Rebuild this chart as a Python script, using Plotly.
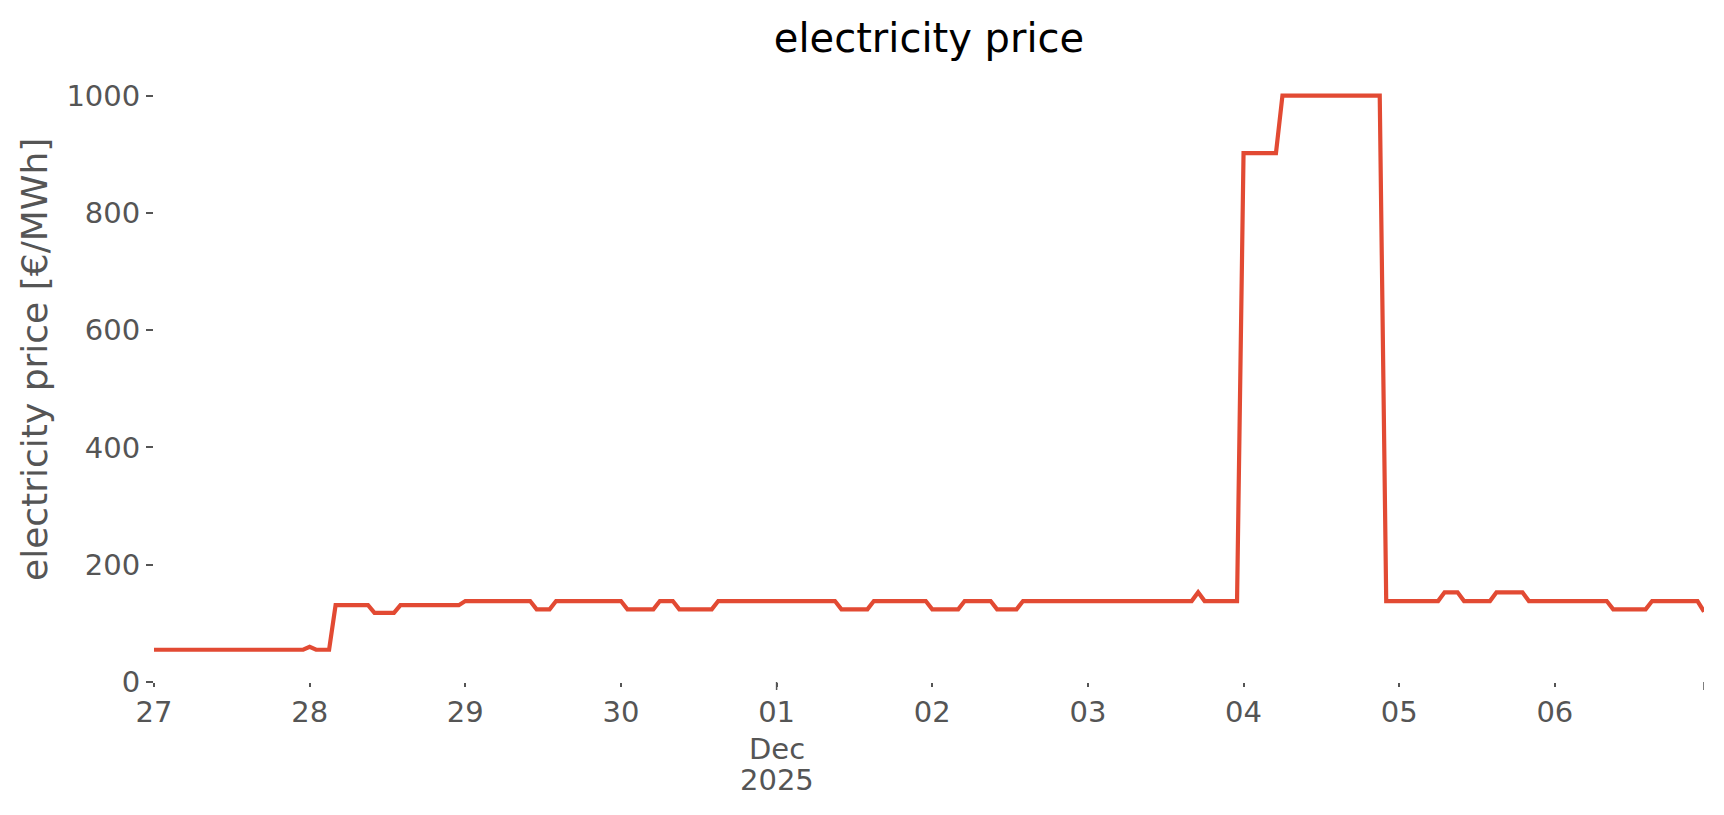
import pandas as pd
import plotly.graph_objects as go

# hourly day-ahead price, 27 Nov 2025 00:00 .. 06 Dec 2025 23:00
start = "2025-11-27 00:00"
price_nov27 = [55] * 24
price_nov28 = [60, 55, 55, 55, 131, 131, 131, 131, 131, 131, 118, 118,
               118, 118, 131, 131, 131, 131, 131, 131, 131, 131, 131, 131]
price_nov29 = [138, 138, 138, 138, 138, 138, 138, 138, 138, 138, 138, 124,
               124, 124, 138, 138, 138, 138, 138, 138, 138, 138, 138, 138]
price_nov30 = [138, 124, 124, 124, 124, 124, 138, 138, 138, 124, 124, 124,
               124, 124, 124, 138, 138, 138, 138, 138, 138, 138, 138, 138]
price_dec01 = [138, 138, 138, 138, 138, 138, 138, 138, 138, 138, 124, 124,
               124, 124, 124, 138, 138, 138, 138, 138, 138, 138, 138, 138]
price_dec02 = [124, 124, 124, 124, 124, 138, 138, 138, 138, 138, 124, 124,
               124, 124, 138, 138, 138, 138, 138, 138, 138, 138, 138, 138]
price_dec03 = [138, 138, 138, 138, 138, 138, 138, 138, 138, 138, 138, 138,
               138, 138, 138, 138, 138, 153, 138, 138, 138, 138, 138, 138]
price_dec04 = [902, 902, 902, 902, 902, 902, 1000, 1000, 1000, 1000, 1000, 1000,
               1000, 1000, 1000, 1000, 1000, 1000, 1000, 1000, 1000, 1000, 138, 138]
price_dec05 = [138, 138, 138, 138, 138, 138, 138, 153, 153, 153, 138, 138,
               138, 138, 138, 153, 153, 153, 153, 153, 138, 138, 138, 138]
price_dec06 = [138, 138, 138, 138, 138, 138, 138, 138, 138, 124, 124, 124,
               124, 124, 124, 138, 138, 138, 138, 138, 138, 138, 138, 120]

tick_days = ["2025-11-27", "2025-11-28", "2025-11-29", "2025-11-30", "2025-12-01",
             "2025-12-02", "2025-12-03", "2025-12-04", "2025-12-05", "2025-12-06"]
tick_text = ["27", "28", "29", "30", "01", "02", "03", "04", "05", "06"]
month_label = ["Dec", "2025"]
y_ticks = [0, 200, 400, 600, 800, 1000]

prices = (price_nov27 + price_nov28 + price_nov29 + price_nov30 + price_dec01
          + price_dec02 + price_dec03 + price_dec04 + price_dec05 + price_dec06)
times = pd.date_range(start, periods=len(prices), freq="h")

W, H = 1724, 815
left, right, top, bottom = 154, 20, 68, 133
plot_h = H - top - bottom
grey = "#555555"
font = "DejaVu Sans"
tick_size = 29

fig = go.Figure(
    go.Scatter(
        x=times,
        y=prices,
        mode="lines",
        line=dict(color="#E24A33", width=4.2),
        hoverinfo="x+y",
    )
)

fig.update_layout(
    width=W,
    height=H,
    margin=dict(l=left, r=right, t=top, b=bottom, pad=0),
    paper_bgcolor="white",
    plot_bgcolor="white",
    showlegend=False,
    font=dict(family=font, color=grey),
    title=dict(
        text="electricity price",
        x=0.5 + (left - right) / 2 / W,
        xanchor="center",
        y=1 - 38 / H,
        yanchor="middle",
        yref="container",
        font=dict(family=font, size=40, color="black"),
    ),
    xaxis=dict(
        range=[times[0], times[-1]],
        tickmode="array",
        tickvals=pd.to_datetime(tick_days),
        ticktext=tick_text,
        ticks="outside",
        ticklen=4,
        tickwidth=1.5,
        tickcolor=grey,
        tickfont=dict(family=font, size=tick_size, color=grey),
        showgrid=False,
        zeroline=False,
        showline=False,
    ),
    yaxis=dict(
        range=[0, 1047],
        tickmode="array",
        tickvals=y_ticks,
        ticks="outside",
        ticklen=7,
        tickwidth=1.5,
        tickcolor=grey,
        tickfont=dict(family=font, size=tick_size, color=grey),
        showgrid=False,
        zeroline=False,
        showline=False,
    ),
)

# longer major ticks (month start and last sample), as in the source
for t in [pd.Timestamp("2025-12-01"), times[-1]]:
    fig.add_shape(
        type="line",
        xref="x",
        yref="paper",
        x0=t,
        x1=t,
        y0=0,
        y1=-8 / plot_h,
        line=dict(color=grey, width=1.5),
    )

# month / year lines under the "01" tick
for label, y_px in zip(month_label, [749, 780]):
    fig.add_annotation(
        text=label,
        xref="x",
        yref="paper",
        x=pd.Timestamp("2025-12-01"),
        y=(H - bottom - y_px) / plot_h,
        xanchor="center",
        yanchor="middle",
        showarrow=False,
        font=dict(family=font, size=tick_size, color=grey),
    )

fig.add_annotation(
    text="electricity price [€/MWh]",
    xref="paper",
    yref="paper",
    x=(34 - left) / (W - left - right),
    y=(H - bottom - 360) / plot_h,
    xanchor="center",
    yanchor="middle",
    textangle=-90,
    showarrow=False,
    font=dict(family=font, size=36, color=grey),
)

fig.write_html(
    "out.html",
    config={"displayModeBar": False},
    post_script="document.body.style.margin='0';",
)
